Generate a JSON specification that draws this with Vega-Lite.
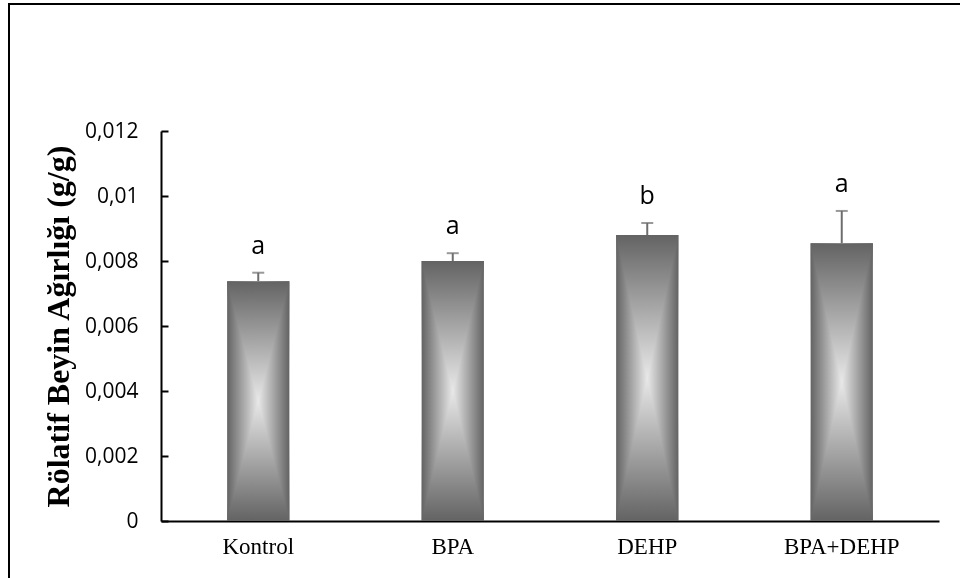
{
  "$schema": "https://vega.github.io/schema/vega-lite/v6.json",
  "autosize": {"type": "none"},
  "padding": {"left": 9, "top": 4, "right": -4, "bottom": -4},
  "width": 955,
  "height": 578,
  "background": "white",
  "config": {
    "view": {"stroke": "black", "strokeWidth": 2},
    "axis": {"grid": false}
  },
  "data": {
    "values": [
      {"group": "Kontrol", "mean": 0.00738, "upper": 0.00764, "letter": "a"},
      {"group": "BPA", "mean": 0.0080, "upper": 0.00824, "letter": "a"},
      {"group": "DEHP", "mean": 0.0088, "upper": 0.00917, "letter": "b"},
      {"group": "BPA+DEHP", "mean": 0.00855, "upper": 0.00954, "letter": "a"}
    ]
  },
  "encoding": {
    "x": {
      "field": "group",
      "type": "nominal",
      "sort": null,
      "scale": {"range": [152, 930], "paddingInner": 0.68, "paddingOuter": 0.34},
      "axis": {
        "title": null,
        "offset": -61,
        "labelAngle": 0,
        "labelFont": "Liberation Serif",
        "labelFontSize": 23,
        "labelColor": "black",
        "labelPadding": 14,
        "ticks": false,
        "domainColor": "black",
        "domainWidth": 2
      }
    }
  },
  "layer": [
    {
      "mark": {
        "type": "bar",
        "fill": {
          "gradient": "linear", "x1": 0, "x2": 1, "y1": 0, "y2": 0,
          "stops": [
            {"offset": 0, "color": "#636363"},
            {"offset": 0.5, "color": "#e8e8e8"},
            {"offset": 1, "color": "#636363"}
          ]
        }
      },
      "encoding": {
        "y": {
          "field": "mean",
          "type": "quantitative",
          "scale": {"domain": [0, 0.012], "range": [517, 127], "nice": false},
          "axis": {
            "title": "Rölatif Beyin Ağırlığı (g/g)",
            "titleFont": "Liberation Serif",
            "titleFontSize": 32,
            "titleFontWeight": "bold",
            "titleColor": "black",
            "titlePadding": 9,
            "offset": -152,
            "values": [0, 0.002, 0.004, 0.006, 0.008, 0.01, 0.012],
            "format": "~g",
            "labelExpr": "replace(datum.label, '.', ',')",
            "labelFont": "Open Sans",
            "labelFontSize": 21,
            "labelColor": "black",
            "labelPadding": 30,
            "tickSize": -7,
            "tickColor": "black",
            "tickWidth": 2,
            "domainColor": "black",
            "domainWidth": 2
          }
        }
      }
    },
    {
      "mark": {
        "type": "bar",
        "blend": "darken",
        "fill": {
          "gradient": "linear", "x1": 0, "x2": 0, "y1": 0, "y2": 1,
          "stops": [
            {"offset": 0, "color": "#636363"},
            {"offset": 0.5, "color": "#e8e8e8"},
            {"offset": 1, "color": "#636363"}
          ]
        }
      },
      "encoding": {"y": {"field": "mean", "type": "quantitative"}}
    },
    {
      "mark": {"type": "rule", "color": "#6e6e6e", "strokeWidth": 2},
      "encoding": {
        "y": {"field": "mean", "type": "quantitative"},
        "y2": {"field": "upper"}
      }
    },
    {
      "mark": {"type": "tick", "color": "#6e6e6e", "thickness": 2, "size": 12, "orient": "horizontal"},
      "encoding": {"y": {"field": "upper", "type": "quantitative"}}
    },
    {
      "mark": {"type": "text", "font": "Open Sans", "fontSize": 25, "color": "black", "baseline": "alphabetic", "dy": -19},
      "encoding": {
        "y": {"field": "upper", "type": "quantitative"},
        "text": {"field": "letter"}
      }
    }
  ]
}
